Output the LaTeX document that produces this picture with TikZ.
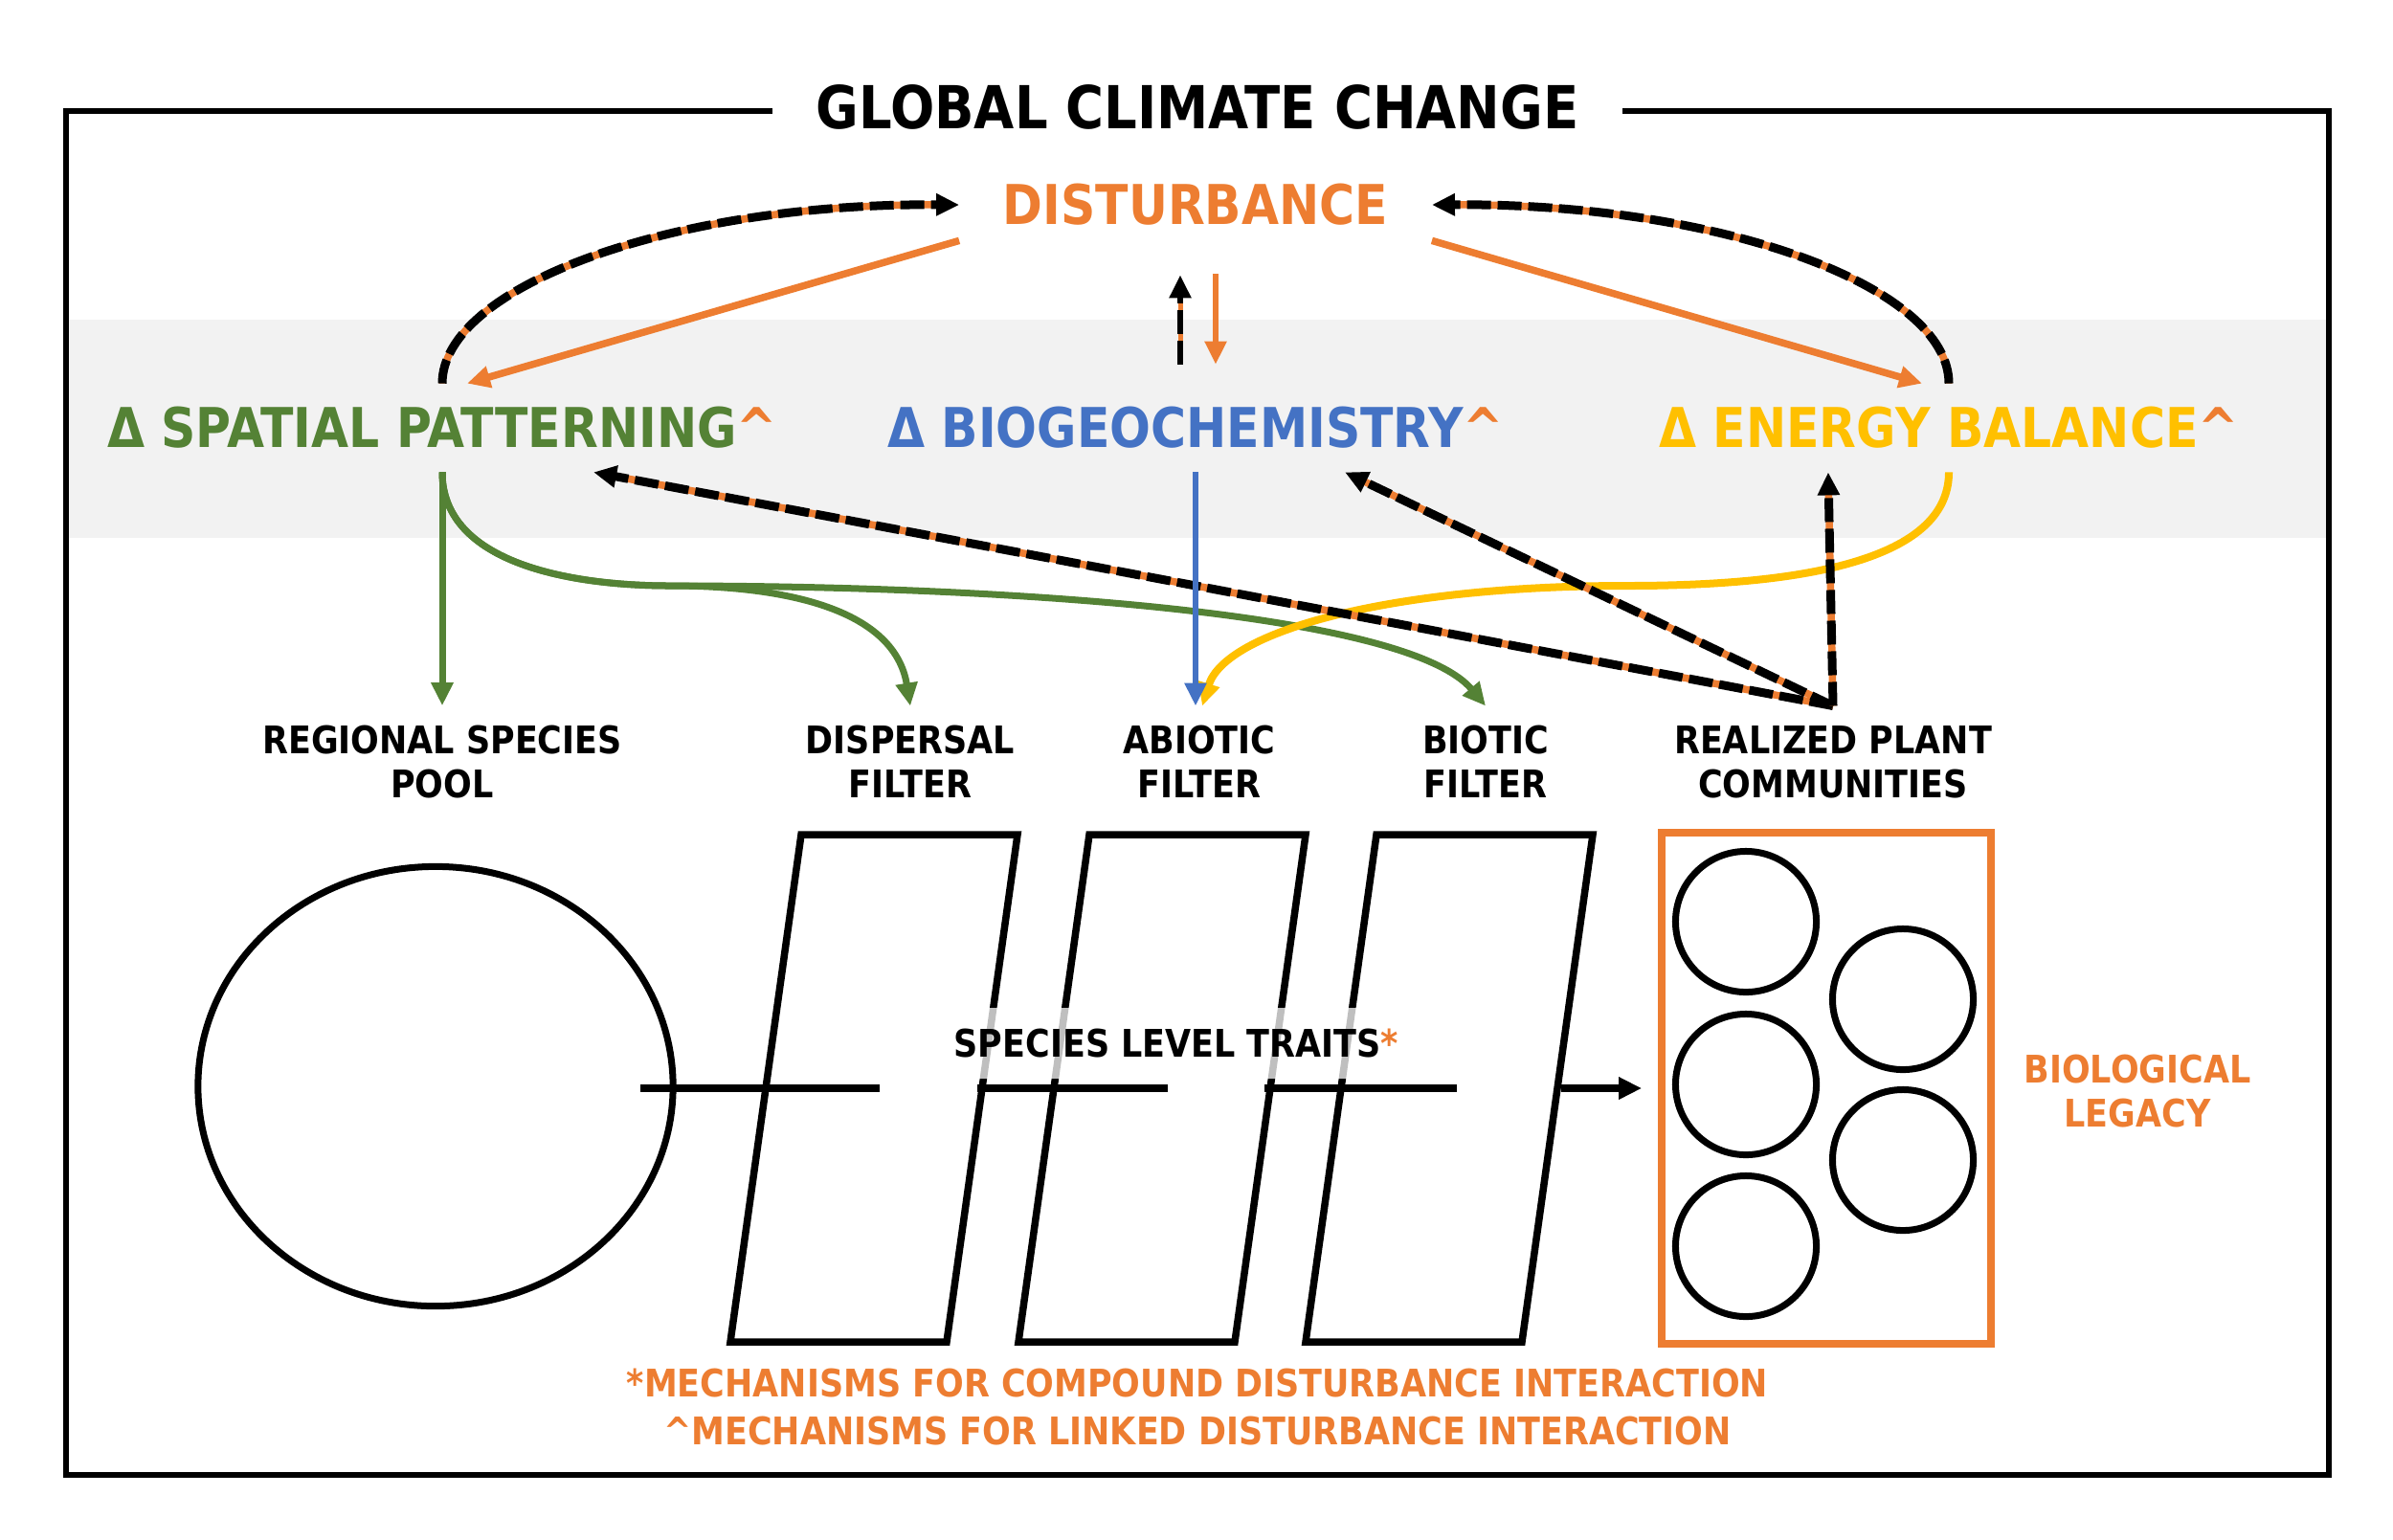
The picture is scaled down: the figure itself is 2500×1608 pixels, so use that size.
\documentclass[tikz,border=0pt]{standalone}
\usepackage{fontspec}
\setmainfont{DejaVu Sans}[FakeStretch=0.88]
\usepackage{xcolor}
\usepackage{tikz}
\usetikzlibrary{arrows.meta, shapes.geometric}

\definecolor{distorange}{HTML}{ED7D31}
\definecolor{spatialgreen}{HTML}{548235}
\definecolor{biogeoblue}{HTML}{4472C4}
\definecolor{energyyellow}{HTML}{FFC000}
\definecolor{bandgray}{HTML}{F2F2F2}

\begin{document}
\begin{tikzpicture}[
    x=0.01cm, y=-0.01cm,
    headline/.style={font=\bfseries\fontsize{17.6}{20}\selectfont, fill=white, inner xsep=0.45cm, inner ysep=0.1cm},
    driver/.style={font=\bfseries\fontsize{16.3}{19}\selectfont, inner xsep=0.45cm, inner ysep=0.24cm},
    smalllabel/.style={font=\bfseries\fontsize{11.3}{13.1}\selectfont, align=center, inner sep=0.2cm},
    filterbox/.style={draw=black, line width=0.075cm, line join=miter},
    plant/.style={draw=black, circle, line width=0.07cm, minimum size=1.47cm, inner sep=0pt},
    tip/.style={-{Triangle[length=0.24cm, width=0.22cm]}},
    linkarrow/.style={draw=black, line width=0.09cm, dash pattern=on 0.25cm off 0.07cm, tip,
        preaction={draw=distorange, line width=0.075cm, solid, -, shorten >=0.2cm}},
    thinlink/.style={draw=black, line width=0.055cm, dash pattern=on 0.25cm off 0.07cm, tip,
        preaction={draw=distorange, line width=0.05cm, solid, -, shorten >=0.2cm}},
    distarrow/.style={draw=distorange, line width=0.075cm, tip},
    greenarrow/.style={draw=spatialgreen, line width=0.07cm, tip},
    bluearrow/.style={draw=biogeoblue, line width=0.065cm, tip},
    yellowarrow/.style={draw=energyyellow, line width=0.08cm, tip},
    traitline/.style={draw=black, line width=0.075cm}
]

\useasboundingbox (0,0) rectangle (2500,1608);
\fill[bandgray] (69,334) rectangle (2433,562);

\node[headline] (title) at (1251,112) {GLOBAL CLIMATE CHANGE};
\coordinate (ftl) at (69,116);
\coordinate (fbr) at (2433,1541);
\draw[line width=0.057cm] (title.west |- ftl) -- (ftl) -- (ftl |- fbr) -- (fbr) -- (fbr |- ftl) -- (title.east |- ftl);

\node[driver, distorange, inner ysep=0.15cm] (dist) at (1249,214) {DISTURBANCE};
\node[driver, spatialgreen] (spatial) at (462,447) {Δ SPATIAL PATTERNING\textcolor{distorange}{\textasciicircum}};
\node[driver, biogeoblue] (biogeo) at (1249,447) {Δ BIOGEOCHEMISTRY\textcolor{distorange}{\textasciicircum}};
\node[driver, energyyellow] (energy) at (2036,447) {Δ ENERGY BALANCE\textcolor{distorange}{\textasciicircum}};

\node[smalllabel] (pool) at (462,796) {REGIONAL SPECIES\\POOL};
\node[smalllabel] (dispersal) at (951,796) {DISPERSAL\\FILTER};
\node[smalllabel] (abiotic) at (1253,796) {ABIOTIC\\FILTER};
\node[smalllabel] (biotic) at (1552,796) {BIOTIC\\FILTER};
\node[smalllabel] (realized) at (1915,796) {REALIZED PLANT\\COMMUNITIES};

\node[draw=black, ellipse, line width=0.07cm, minimum width=4.96cm, minimum height=4.59cm] (poolshape) at (455,1135) {};

\foreach \fx in {837,1138,1438}
    \draw[filterbox] (\fx,872) -- ++(226,0) -- ++(-74,530) -- ++(-226,0) -- cycle;

\node[smalllabel, fill=white, fill opacity=0.75, text opacity=1, inner ysep=0.22cm] (traits) at (1229,1090) {SPECIES LEVEL TRAITS\textcolor{distorange}{*}};

\node[draw=distorange, line width=0.075cm, minimum width=3.44cm, minimum height=5.34cm] (commbox) at (1908,1137) {};
\foreach \cx/\cy [count=\i] in {1824/963, 1824/1133, 1824/1302, 1988/1044, 1988/1212}
    \node[plant] (plant\i) at (\cx,\cy) {};

\node[smalllabel, distorange] (legacy) at (2233,1140) {BIOLOGICAL\\LEGACY};
\node[smalllabel, distorange, font=\bfseries\fontsize{11.3}{14.2}\selectfont] (notes) at (1251,1470)
    {*MECHANISMS FOR COMPOUND DISTURBANCE INTERACTION\\\textasciicircum MECHANISMS FOR LINKED DISTURBANCE INTERACTION};

\foreach \sa/\sb [count=\i] in {669/919, 1021/1220, 1321/1522, 1631/1700} {
    \coordinate (seg\i a) at (\sa,1137);
    \coordinate (seg\i b) at (\sb,1137);
}
\draw[traitline] (seg1a) -- (seg1b);
\draw[traitline] (seg2a) -- (seg2b);
\draw[traitline] (seg3a) -- (seg3b);
\draw[traitline, tip] (seg4a) -- ([xshift=-0.17cm]commbox.west);

\draw[linkarrow] (spatial.north) .. controls (462,300) and (700,212) .. (dist.west);
\draw[distarrow] (dist.south west) -- ([xshift=0.26cm]spatial.north);
\draw[linkarrow] (energy.north) .. controls (2036,300) and (1800,212) .. (dist.east);
\draw[distarrow] (dist.south east) -- ([xshift=-0.28cm]energy.north);
\draw[thinlink] ([xshift=-0.16cm, yshift=0.2cm]biogeo.north) -- ([xshift=-0.16cm, yshift=-0.36cm]dist.south);
\draw[distarrow, line width=0.055cm] ([xshift=0.21cm, yshift=-0.35cm]dist.south) -- ([xshift=0.21cm, yshift=0.2cm]biogeo.north);

\draw[greenarrow] (spatial.south) -- (pool.north);
\draw[greenarrow] (spatial.south) .. controls (462,590) and (600,612) .. (700,612) .. controls (830,612) and (935,640) .. (dispersal.north);
\draw[greenarrow] (spatial.south) .. controls (462,590) and (600,612) .. (700,612) .. controls (1050,612) and (1470,640) .. (biotic.north);
\draw[yellowarrow] (energy.south) .. controls (2036,570) and (1930,612) .. (1700,612) .. controls (1450,612) and (1280,660) .. ([xshift=0.03cm]abiotic.north);

\draw[linkarrow] (realized.north) -- ([xshift=1.58cm]spatial.south);
\draw[linkarrow] (realized.north) -- ([xshift=1.56cm]biogeo.south);
\draw[linkarrow] (realized.north) -- ([xshift=-1.26cm]energy.south);

\draw[bluearrow] (biogeo.south) -- (biogeo.south |- abiotic.north);

\end{tikzpicture}
\end{document}
